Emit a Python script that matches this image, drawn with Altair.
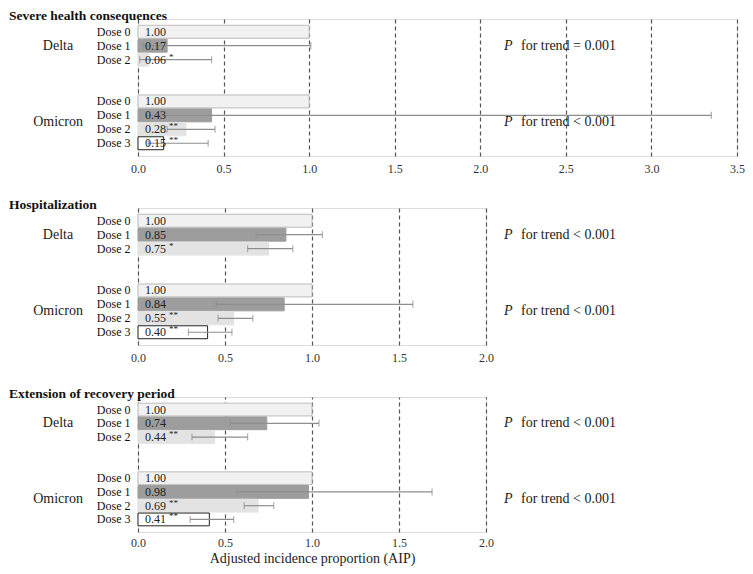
import altair as alt
import pandas as pd

FONT = "Liberation Serif"

variants = ["Delta", "Delta", "Delta", "Omicron", "Omicron", "Omicron", "Omicron"]
doses = ["Dose 0", "Dose 1", "Dose 2", "Dose 0", "Dose 1", "Dose 2", "Dose 3"]

severe_aip = [1.00, 0.17, 0.06, 1.00, 0.43, 0.28, 0.15]
severe_lo = [None, 0.03, 0.01, None, 0.05, 0.17, 0.06]
severe_hi = [None, 1.01, 0.43, None, 3.35, 0.45, 0.41]
severe_sig = ["", "", "*", "", "", "**", "**"]
severe_p = ["for trend = 0.001", "for trend < 0.001"]

hosp_aip = [1.00, 0.85, 0.75, 1.00, 0.84, 0.55, 0.40]
hosp_lo = [None, 0.68, 0.63, None, 0.45, 0.46, 0.29]
hosp_hi = [None, 1.06, 0.89, None, 1.58, 0.66, 0.54]
hosp_sig = ["", "", "*", "", "", "**", "**"]
hosp_p = ["for trend < 0.001", "for trend < 0.001"]

ext_aip = [1.00, 0.74, 0.44, 1.00, 0.98, 0.69, 0.41]
ext_lo = [None, 0.53, 0.31, None, 0.57, 0.61, 0.30]
ext_hi = [None, 1.04, 0.63, None, 1.69, 0.78, 0.55]
ext_sig = ["", "", "**", "", "", "**", "**"]
ext_p = ["for trend < 0.001", "for trend < 0.001"]

groups = ["Delta", "Omicron"]
group_rows = ["Delta|Dose 1", "Omicron|Dose 1"]

row_domain = ["Delta|Dose 0", "Delta|Dose 1", "Delta|Dose 2", "gap1", "gap2",
              "Omicron|Dose 0", "Omicron|Dose 1", "Omicron|Dose 2", "Omicron|Dose 3"]

dose_domain = ["Dose 0", "Dose 1", "Dose 2", "Dose 3"]
fill_range = ["#f1f1f1", "#9d9d9d", "#e3e3e3", "#ffffff"]
stroke_range = ["#bcbcbc", "#9d9d9d", "#e3e3e3", "#222222"]
ERR = "#8e8e8e"


def panel(title, aip, lo, hi, sig, ptxt, xmax, width, height, xtitle=None, label_pad=7):
    df = pd.DataFrame({
        "variant": variants, "dose": doses, "aip": aip,
        "lo": lo, "hi": hi, "sig": sig,
    })
    df["row"] = df["variant"] + "|" + df["dose"]
    gdf = pd.DataFrame({"variant": groups, "row": group_rows, "ptxt": ptxt})

    ticks = [i * 0.5 for i in range(int(xmax / 0.5) + 1)]
    y = alt.Y("row:N", sort=row_domain,
              scale=alt.Scale(domain=row_domain, paddingInner=0.07, paddingOuter=0.45),
              axis=alt.Axis(title=None, ticks=False, domain=False, grid=False,
                            labelExpr="indexof(datum.label,'|')>=0 ? split(datum.label,'|')[1] : ''",
                            labelFont=FONT, labelFontSize=12, labelColor="#111",
                            labelPadding=8))
    xscale = alt.Scale(domain=[0, xmax], nice=False, zero=True)
    xaxis = alt.Axis(values=ticks, format=".1f", grid=True, gridDash=[4, 3],
                     gridColor="#555", gridWidth=1.2, ticks=False, domain=False,
                     labelFont=FONT, labelFontSize=12, labelColor="#333",
                     labelPadding=label_pad, labelFlush=False,
                     title=xtitle, titleFont=FONT, titleFontSize=14,
                     titleFontWeight="normal", titleColor="#222", titlePadding=3)

    base = alt.Chart(df)
    bars = base.mark_bar(strokeWidth=1).encode(
        x=alt.X("aip:Q", scale=xscale, axis=xaxis),
        y=y,
        fill=alt.Fill("dose:N", scale=alt.Scale(domain=dose_domain, range=fill_range), legend=None),
        stroke=alt.Stroke("dose:N", scale=alt.Scale(domain=dose_domain, range=stroke_range), legend=None),
    )
    valid = base.transform_filter("isValid(datum.lo)")
    rule = valid.mark_rule(color=ERR, strokeWidth=1.2).encode(
        x="lo:Q", x2="hi:Q", y=alt.Y("row:N", sort=row_domain))
    cap_lo = valid.mark_tick(color=ERR, thickness=1.2, size=7).encode(
        x="lo:Q", y=alt.Y("row:N", sort=row_domain))
    cap_hi = valid.mark_tick(color=ERR, thickness=1.2, size=7).encode(
        x="hi:Q", y=alt.Y("row:N", sort=row_domain))
    vals = base.mark_text(align="left", dx=7, font=FONT, fontSize=12, color="#222").encode(
        x=alt.value(0), y=alt.Y("row:N", sort=row_domain),
        text=alt.Text("aip:Q", format=".2f"))
    stars = base.mark_text(align="left", dx=31, dy=-3, font=FONT, fontSize=9, color="#222").encode(
        x=alt.value(0), y=alt.Y("row:N", sort=row_domain), text="sig:N")

    gbase = alt.Chart(gdf)
    g_delta = gbase.transform_filter("datum.variant == 'Delta'")
    g_omi = gbase.transform_filter("datum.variant == 'Omicron'")
    layers = [bars, rule, cap_lo, cap_hi, vals, stars]
    for g, off in ((g_delta, 0), (g_omi, 7)):
        layers.append(g.mark_text(align="center", dy=off, font=FONT, fontSize=14, color="#222").encode(
            x=alt.value(-80), y=alt.Y("row:N", sort=row_domain), text="variant:N"))
        layers.append(g.mark_text(align="left", dy=off, font=FONT, fontSize=14,
                                  fontStyle="italic", color="#222").encode(
            x=alt.value(366), y=alt.Y("row:N", sort=row_domain), text=alt.value("P")))
        layers.append(g.mark_text(align="left", dy=off, font=FONT, fontSize=14, color="#222").encode(
            x=alt.value(383), y=alt.Y("row:N", sort=row_domain), text="ptxt:N"))

    return alt.layer(*layers).properties(
        width=width, height=height,
        title=alt.TitleParams(title, anchor="start", frame="group", dx=-129,
                              font=FONT, fontSize=13.5, fontWeight="bold",
                              color="#111", offset=-3),
    )


p1 = panel("Severe health consequences", severe_aip, severe_lo, severe_hi, severe_sig,
           severe_p, 3.5, 599, 137)
p2 = panel("Hospitalization", hosp_aip, hosp_lo, hosp_hi, hosp_sig, hosp_p, 2.0, 348, 137)
p3 = panel("Extension of recovery period", ext_aip, ext_lo, ext_hi, ext_sig, ext_p, 2.0, 348, 135,
           xtitle="Adjusted incidence proportion (AIP)", label_pad=5)

chart = alt.vconcat(p1, p2, p3, spacing=22).properties(
    padding={"left": 0, "top": 0, "right": 0, "bottom": 0}
).configure_view(stroke="#333", strokeWidth=1.2).configure(background="white")

chart.save("out.html", embed_options={"renderer": "svg", "actions": False})
